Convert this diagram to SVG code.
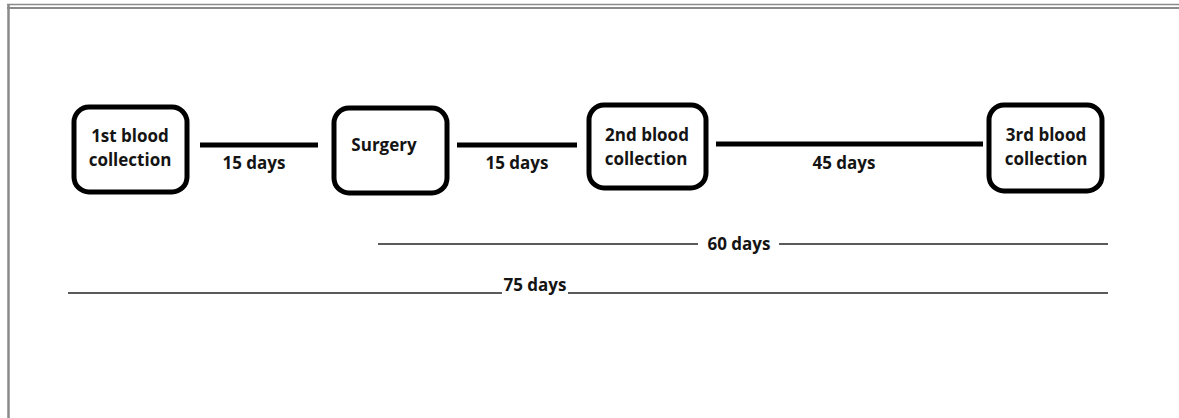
<svg xmlns="http://www.w3.org/2000/svg" width="1179" height="418" viewBox="0 0 1179 418">
<style>
.box{fill:#fff;stroke:#000;stroke-width:5}
.t{font-family:"Open Sans","Noto Sans",sans-serif;font-weight:700;font-size:17px;fill:#141414;text-anchor:middle}
.thick{stroke:#000;stroke-width:5;fill:none}
.thin{stroke:#5a5a5a;stroke-width:2;fill:none}
.frame{stroke:#8a8a8a;fill:none}
</style>
<rect width="1179" height="418" fill="#fff"/>
<g id="frame">
<line class="frame" x1="7" y1="4.5" x2="1179" y2="4.5" stroke-width="1.5"/>
<line class="frame" x1="7" y1="8" x2="1179" y2="8" stroke-width="2" stroke="#6e6e6e"/>
<line class="frame" x1="8.5" y1="4" x2="8.5" y2="418" stroke-width="2.5" stroke="#7a7a7a"/>
</g>
<g id="connectors">
<line class="thick" x1="200" y1="145" x2="318" y2="145"/>
<line class="thick" x1="457" y1="145" x2="577" y2="145"/>
<line class="thick" x1="716" y1="144" x2="983" y2="144"/>
<line class="thin" x1="378" y1="244" x2="698" y2="244"/>
<line class="thin" x1="779" y1="244" x2="1108" y2="244"/>
<line class="thin" x1="68" y1="293" x2="502" y2="293"/>
<line class="thin" x1="568" y1="293" x2="1108" y2="293"/>
<text class="t" x="254" y="169">15 days</text>
<text class="t" x="517" y="169">15 days</text>
<text class="t" x="844" y="169">45 days</text>
<text class="t" x="739" y="250">60 days</text>
<text class="t" x="535" y="291">75 days</text>
</g>
<g id="n1">
<rect class="box" x="74" y="107" width="113" height="85" rx="15"/>
<text class="t" x="130" y="142">1st blood</text>
<text class="t" x="130" y="166">collection</text>
</g>
<g id="n2">
<rect class="box" x="334" y="108" width="113" height="85" rx="15"/>
<text class="t" x="384" y="151">Surgery</text>
</g>
<g id="n3">
<rect class="box" x="589" y="105" width="117" height="83" rx="15"/>
<text class="t" x="647" y="141">2nd blood</text>
<text class="t" x="646" y="165">collection</text>
</g>
<g id="n4">
<rect class="box" x="989" y="105" width="113" height="86" rx="15"/>
<text class="t" x="1046" y="141">3rd blood</text>
<text class="t" x="1046" y="165">collection</text>
</g>
</svg>
